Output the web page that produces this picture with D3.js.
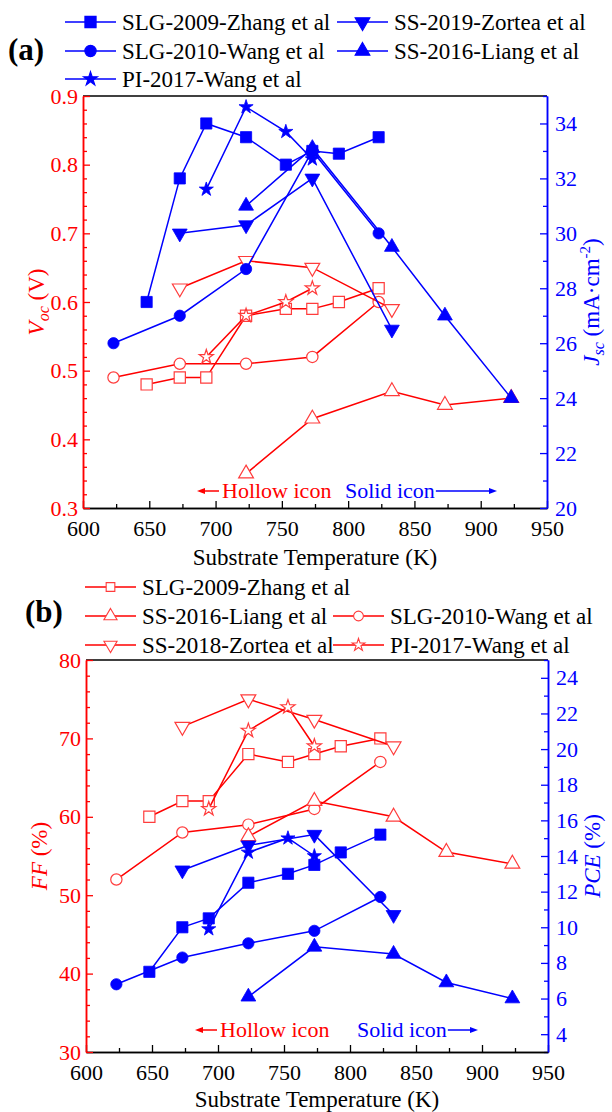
<!DOCTYPE html>
<html>
<head>
<meta charset="utf-8">
<script src="https://cdn.jsdelivr.net/npm/d3@7"></script>
<style>
  html, body { margin: 0; padding: 0; background: #fff; }
  svg { display: block; font-family: 'Liberation Serif', 'Times New Roman', serif; }
</style>
</head>
<body>
<svg id="chart" width="612" height="1112"></svg>
<script>
// ---- data: substrate temperature (K) and device parameters per study ----
const zhangT   = [648, 673, 693, 723, 753, 773, 793, 823];
const zhangVoc = [0.48, 0.49, 0.49, 0.58, 0.59, 0.59, 0.60, 0.62];
const zhangJsc = [27.5, 32.0, 34.0, 33.5, 32.5, 33.0, 32.9, 33.5];
const zhangFF  = [60, 62, 62, 68, 67, 68, 69, 70];
const zhangPCE = [7.5, 10.0, 10.5, 12.5, 13.0, 13.5, 14.2, 15.2];

const wangT   = [623, 673, 723, 773, 823];
const wangVoc = [0.49, 0.51, 0.51, 0.52, 0.60];
const wangJsc = [26.0, 27.0, 28.7, 33.0, 30.0];
const wangFF  = [52, 58, 59, 61, 67];
const wangPCE = [6.8, 8.3, 9.1, 9.8, 11.7];

const liangT   = [723, 773, 833, 873, 923];
const liangVoc = [0.35, 0.43, 0.47, 0.45, 0.46];
const liangJsc = [31.0, 33.1, 29.5, 27.0, 24.0];
const liangFF  = [57.5, 62, 60, 55.5, 54];
const liangPCE = [6.1, 8.9, 8.5, 6.9, 6.0];

const zorteaT   = [673, 723, 773, 833];
const zorteaVoc = [0.62, 0.66, 0.65, 0.59];
const zorteaJsc = [30.0, 30.3, 32.0, 26.5];
const zorteaFF  = [71.5, 75, 72.4, 69];
const zorteaPCE = [13.2, 14.6, 15.2, 10.7];

const piT   = [693, 723, 753, 773];
const piVoc = [0.52, 0.58, 0.60, 0.62];
const piJsc = [31.6, 34.6, 33.7, 32.7];
const piFF  = [61, 71, 74, 69];
const piPCE = [9.9, 14.2, 15.0, 14.0];

// axis ticks
const xTicks    = [600, 650, 700, 750, 800, 850, 900, 950];
const vocTicks  = [0.3, 0.4, 0.5, 0.6, 0.7, 0.8, 0.9];
const jscTicks  = [20, 22, 24, 26, 28, 30, 32, 34];
const ffTicks   = [30, 40, 50, 60, 70, 80];
const pceTicks  = [4, 6, 8, 10, 12, 14, 16, 18, 20, 22, 24];

// legend labels
const legendA = ["SLG-2009-Zhang et al", "SS-2019-Zortea et al", "SLG-2010-Wang et al", "SS-2016-Liang et al", "PI-2017-Wang et al"];
const legendB = ["SLG-2009-Zhang et al", "SS-2016-Liang et al", "SLG-2010-Wang et al", "SS-2018-Zortea et al", "PI-2017-Wang et al"];

const RED = "#ff0000", HOLLOW = "#ff3c3c", BLUE = "#0000ff";
const FONT = "'Liberation Serif', 'Times New Roman', serif";
const NB = "\u00a0";
const svg = d3.select("#chart");

const symbols = {
  square: d3.symbol().type(d3.symbolSquare).size(125),
  circle: d3.symbol().type(d3.symbolCircle).size(100),
  up:     d3.symbol().type(d3.symbolTriangle).size(95),
  down:   d3.symbol().type(d3.symbolTriangle).size(95),
  star:   d3.symbol().type(d3.symbolStar).size(62)
};
const legendSymbols = {
  square: d3.symbol().type(d3.symbolSquare).size(75),
  circle: d3.symbol().type(d3.symbolCircle).size(75),
  up:     d3.symbol().type(d3.symbolTriangle).size(75),
  down:   d3.symbol().type(d3.symbolTriangle).size(75),
  star:   d3.symbol().type(d3.symbolStar).size(50)
};
function markerTransform(kind, x, y) {
  return kind === "down" ? `translate(${x},${y}) rotate(180)` : `translate(${x},${y})`;
}

function drawSeries(g, xs, ys, T, V, kind, solid) {
  const line = d3.line().x((d, i) => xs(T[i])).y(d => ys(d));
  g.append("path").attr("d", line(V)).attr("fill", "none")
    .attr("stroke", solid ? BLUE : RED).attr("stroke-width", 1.5);
  g.selectAll(null).data(V).enter().append("path")
    .attr("d", symbols[kind]())
    .attr("transform", (d, i) => markerTransform(kind, xs(T[i]), ys(d)))
    .attr("fill", solid ? BLUE : "#fff")
    .attr("stroke", solid ? BLUE : HOLLOW)
    .attr("stroke-width", solid ? 0.8 : 1.2);
}

function styleAxis(g, color, fontSize) {
  g.attr("font-family", FONT);
  g.select(".domain").attr("stroke", color).attr("stroke-width", 1.5);
  g.selectAll(".tick line").attr("stroke", color).attr("stroke-width", 1.3);
  g.selectAll(".tick text").attr("fill", color).attr("font-size", fontSize).attr("font-family", FONT);
}

function range(a, b, step) {
  const out = [];
  for (let v = a; v <= b + 1e-9; v += step) out.push(+v.toFixed(4));
  return out;
}

function drawPanel(p) {
  const g = svg.append("g");
  const x = d3.scaleLinear().domain([600, 950]).range([p.x0, p.x1]);
  const yL = d3.scaleLinear().domain(p.yLdom).range([p.y1, p.y0]);
  const yR = d3.scaleLinear().domain(p.yRdom).range([p.y1, p.y0]);

  // top frame
  g.append("line").attr("x1", p.x0).attr("x2", p.x1).attr("y1", p.y0).attr("y2", p.y0)
    .attr("stroke", "#000").attr("stroke-width", 1.5);

  // minor ticks
  g.append("g").attr("transform", `translate(0,${p.y1})`)
    .call(d3.axisBottom(x).tickValues(range(625, 925, 50)).tickSizeInner(-4).tickSizeOuter(0).tickFormat(""))
    .call(a => styleAxis(a, "#000", 22));
  g.append("g").attr("transform", `translate(${p.x0},0)`)
    .call(d3.axisLeft(yL).tickValues(p.yLminor).tickSizeInner(-4).tickSizeOuter(0).tickFormat(""))
    .call(a => styleAxis(a, RED, 22));
  g.append("g").attr("transform", `translate(${p.x1},0)`)
    .call(d3.axisRight(yR).tickValues(p.yRminor).tickSizeInner(-4).tickSizeOuter(0).tickFormat(""))
    .call(a => styleAxis(a, BLUE, 22));

  // major ticks with labels
  g.append("g").attr("transform", `translate(0,${p.y1})`)
    .call(d3.axisBottom(x).tickValues(xTicks).tickSizeInner(-7).tickSizeOuter(0).tickPadding(12))
    .call(a => styleAxis(a, "#000", 22));
  g.append("g").attr("transform", `translate(${p.x0},0)`)
    .call(d3.axisLeft(yL).tickValues(p.yLticks).tickSizeInner(-7).tickSizeOuter(0).tickPadding(5).tickFormat(p.yLfmt))
    .call(a => styleAxis(a, RED, 22));
  g.append("g").attr("transform", `translate(${p.x1},0)`)
    .call(d3.axisRight(yR).tickValues(p.yRticks).tickSizeInner(-7).tickSizeOuter(0).tickPadding(8))
    .call(a => styleAxis(a, BLUE, 22));

  // series: hollow (left axis) first, solid (right axis) on top
  p.series.forEach(s => drawSeries(g, x, yL, s.T, s.left, s.kind, false));
  p.series.forEach(s => drawSeries(g, x, yR, s.T, s.right, s.kind, true));

  // x title
  g.append("text").attr("x", (p.x0 + p.x1) / 2).attr("y", p.xTitleY)
    .attr("text-anchor", "middle").attr("font-size", 23).text("Substrate Temperature (K)");

  // y titles
  const lt = g.append("text").attr("transform", `translate(${p.x0 - 47},${(p.y0 + p.y1) / 2}) rotate(-90)`)
    .attr("y", 8).attr("text-anchor", "middle").attr("font-size", 23).attr("fill", RED);
  p.leftTitle(lt);
  const rt = g.append("text").attr("transform", `translate(${p.x1 + 44},${(p.y0 + p.y1) / 2}) rotate(-90)`)
    .attr("y", 8).attr("text-anchor", "middle").attr("font-size", 23).attr("fill", BLUE);
  p.rightTitle(rt);

  // hollow / solid notes with arrows
  const ny = p.noteY;
  g.append("text").attr("x", p.hollowX).attr("y", ny).attr("font-size", 22).attr("fill", RED).text("Hollow icon");
  arrow(g, p.hollowX - 3, p.hollowX - 25, ny - 7, RED);
  const st = g.append("text").attr("x", p.solidX).attr("y", ny).attr("font-size", 22).attr("fill", BLUE).text("Solid icon");
  const w = st.node().getComputedTextLength();
  arrow(g, p.solidX + w + 1, p.solidArrowEnd, ny - 7, BLUE);
}

function arrow(g, xFrom, xTo, y, color) {
  const dir = Math.sign(xTo - xFrom);
  g.append("line").attr("x1", xFrom).attr("x2", xTo - dir * 4).attr("y1", y).attr("y2", y)
    .attr("stroke", color).attr("stroke-width", 1.5);
  g.append("path")
    .attr("d", `M${xTo},${y} L${xTo - dir * 8},${y - 3} L${xTo - dir * 8},${y + 3} Z`)
    .attr("fill", color);
}

function legendEntry(lx, ly, label, kind, solid) {
  const g = svg.append("g");
  const my = ly - 8;
  g.append("line").attr("x1", lx).attr("x2", lx + 51).attr("y1", my).attr("y2", my)
    .attr("stroke", solid ? BLUE : RED).attr("stroke-width", 1.5);
  g.append("path").attr("d", solid ? symbols[kind]() : legendSymbols[kind]())
    .attr("transform", markerTransform(kind, lx + 25.5, my))
    .attr("fill", solid ? BLUE : "#fff").attr("stroke", solid ? BLUE : HOLLOW).attr("stroke-width", 1.1);
  g.append("text").attr("x", lx + 57).attr("y", ly).attr("font-size", 23).text(label);
}

// ---- panel (a): Voc (hollow) and Jsc (solid) ----
drawPanel({
  x0: 83, x1: 547, y0: 96, y1: 508,
  yLdom: [0.3, 0.9], yRdom: [20, 35],
  yLticks: vocTicks, yLminor: range(0.32, 0.88, 0.02).filter(v => Math.abs(v * 10 - Math.round(v * 10)) > 1e-6),
  yRticks: jscTicks, yRminor: range(21, 35, 2),
  yLfmt: d3.format(".1f"),
  xTitleY: 565,
  noteY: 498, hollowX: 222, solidX: 345, solidArrowEnd: 497,
  series: [
    { T: zhangT, left: zhangVoc, right: zhangJsc, kind: "square" },
    { T: wangT, left: wangVoc, right: wangJsc, kind: "circle" },
    { T: liangT, left: liangVoc, right: liangJsc, kind: "up" },
    { T: zorteaT, left: zorteaVoc, right: zorteaJsc, kind: "down" },
    { T: piT, left: piVoc, right: piJsc, kind: "star" }
  ],
  leftTitle: t => {
    t.append("tspan").attr("font-style", "italic").text("V");
    t.append("tspan").attr("font-style", "italic").attr("font-size", 16).attr("dy", 5).text("oc");
    t.append("tspan").attr("dy", -5).text(NB + "(V)");
  },
  rightTitle: t => {
    t.append("tspan").attr("font-style", "italic").text("J");
    t.append("tspan").attr("font-style", "italic").attr("font-size", 16).attr("dy", 5).text("sc");
    t.append("tspan").attr("dy", -5).text(NB + "(mA·cm");
    t.append("tspan").attr("font-size", 15).attr("dy", -9).text("-2");
    t.append("tspan").attr("dy", 9).text(")");
  }
});

// ---- panel (b): FF (hollow) and PCE (solid) ----
drawPanel({
  x0: 86, x1: 548, y0: 660, y1: 1052,
  yLdom: [30, 80], yRdom: [3, 25],
  yLticks: ffTicks, yLminor: range(32, 78, 2).filter(v => v % 10 !== 0),
  yRticks: pceTicks, yRminor: range(3, 25, 2),
  yLfmt: d3.format("d"),
  xTitleY: 1107,
  noteY: 1037, hollowX: 220, solidX: 357, solidArrowEnd: 478,
  series: [
    { T: zhangT, left: zhangFF, right: zhangPCE, kind: "square" },
    { T: wangT, left: wangFF, right: wangPCE, kind: "circle" },
    { T: liangT, left: liangFF, right: liangPCE, kind: "up" },
    { T: zorteaT, left: zorteaFF, right: zorteaPCE, kind: "down" },
    { T: piT, left: piFF, right: piPCE, kind: "star" }
  ],
  leftTitle: t => {
    t.append("tspan").attr("font-style", "italic").text("FF");
    t.append("tspan").text(NB + "(%)");
  },
  rightTitle: t => {
    t.append("tspan").attr("font-style", "italic").text("PCE");
    t.append("tspan").text(NB + "(%)");
  }
});

// ---- legends and panel letters ----
svg.append("text").attr("x", 8).attr("y", 60).attr("font-size", 31).attr("font-weight", "bold").text("(a)");
legendEntry(65, 30, legendA[0], "square", true);
legendEntry(337, 30, legendA[1], "down", true);
legendEntry(65, 59, legendA[2], "circle", true);
legendEntry(337, 59, legendA[3], "up", true);
legendEntry(65, 87, legendA[4], "star", true);

svg.append("text").attr("x", 25).attr("y", 622).attr("font-size", 31).attr("font-weight", "bold").text("(b)");
legendEntry(85, 595, legendB[0], "square", false);
legendEntry(85, 624, legendB[1], "up", false);
legendEntry(333, 624, legendB[2], "circle", false);
legendEntry(85, 653, legendB[3], "down", false);
legendEntry(333, 653, legendB[4], "star", false);
</script>
</body>
</html>
